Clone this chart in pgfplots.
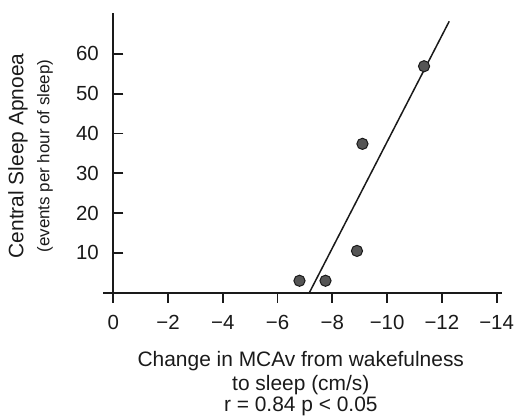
\documentclass[border=0pt]{standalone}
\usepackage{pgfplots}
\pgfplotsset{compat=1.18}
\usepackage{fontspec}
\setmainfont{Liberation Sans}
\definecolor{txt}{HTML}{1A1A1A}
\definecolor{dot}{HTML}{555555}
\begin{document}
\begin{tikzpicture}
\path[use as bounding box] (-113.3bp,-124.3bp) rectangle (401.7bp,292.7bp);
\begin{axis}[
  at={(0,0)}, anchor=origin,
  scale only axis, width=399.2bp, height=279.4bp,
  x dir=reverse,
  xmin=-14.19, xmax=0.39, ymin=0, ymax=70.2,
  axis lines=middle,
  axis line style={-, line width=2bp, color=txt},
  hide obscured x ticks=false, hide obscured y ticks=false,
  xtick={0,-2,-4,-6,-8,-10,-12,-14},
  xticklabels={0,−2,−4,−6,−8,−10,−12,−14},
  ytick={10,20,30,40,50,60},
  yticklabels={10,20,30,40,50,60},
  tick align=outside, major tick length=10bp,
  tick style={line width=1.8bp, color=txt},
  ticklabel style={font=\fontsize{20.5}{24}\selectfont, text=txt},
  xticklabel style={yshift=-9bp},
  yticklabel style={xshift=-1bp},
  clip=false,
]
\addplot[txt, line width=1.5bp] coordinates {(-7.16,0) (-12.27,68.2)};
\addplot[only marks, mark=*, mark size=5.6bp,
  mark options={fill=dot, draw=txt, line width=1bp}]
  coordinates {(-6.8,3) (-7.75,3) (-8.9,10.5) (-9.1,37.4) (-11.35,56.9)};
\end{axis}
\node[rotate=90, text=txt, font=\fontsize{21}{24}\selectfont] at (-95.3bp,136.7bp) {Central Sleep Apnoea};
\node[rotate=90, text=txt, font=\fontsize{17}{20}\selectfont] at (-68.3bp,136.7bp) {(events per hour of sleep)};
\node[anchor=base, text=txt, font=\fontsize{21}{24}\selectfont] at (187.5bp,-74bp) {Change in MCAv from wakefulness};
\node[anchor=base, text=txt, font=\fontsize{21}{24}\selectfont] at (187.5bp,-98bp) {to sleep (cm/s)};
\node[anchor=base, text=txt, font=\fontsize{21}{24}\selectfont] at (187.5bp,-119bp) {r = 0.84 p < 0.05};
\end{tikzpicture}
\end{document}
